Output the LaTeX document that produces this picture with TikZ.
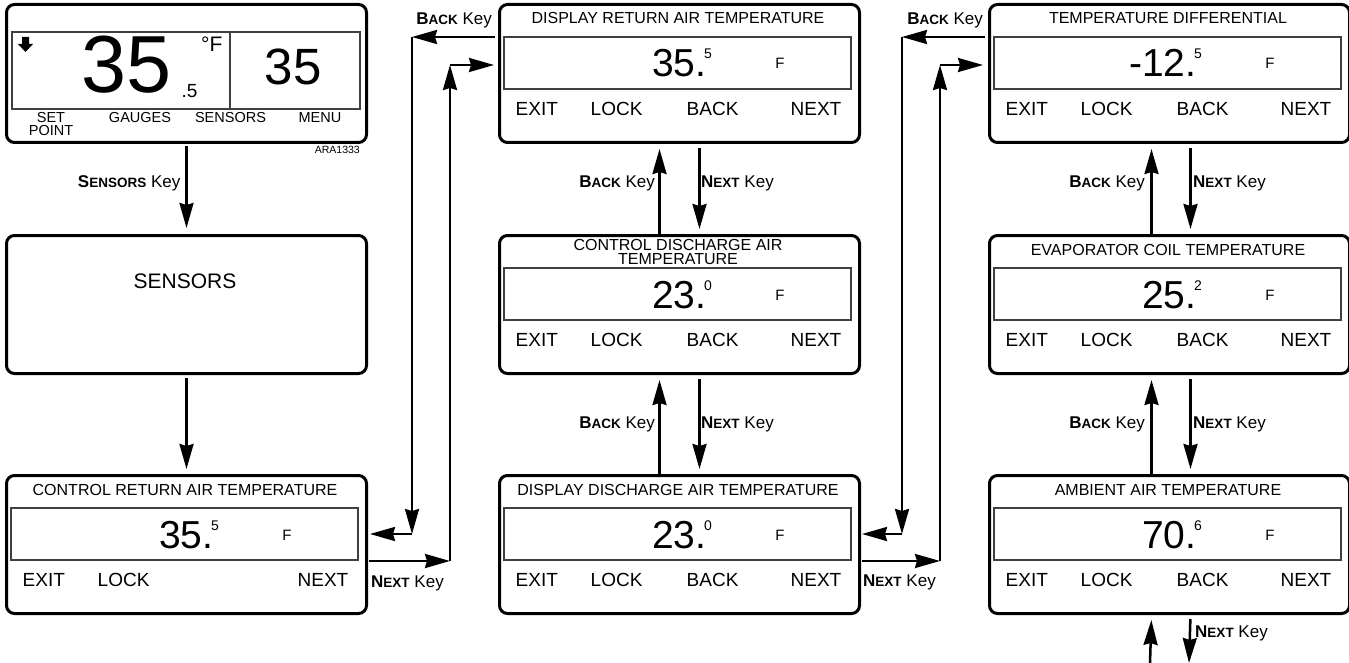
\documentclass[tikz,border=0pt]{standalone}
\usepackage{fontspec}
\setmainfont{Liberation Sans}
\usetikzlibrary{arrows.meta}
\newcommand\fs[1]{\fontsize{#1}{#1}\selectfont}
\newcommand\sck[2]{{\bfseries\fs{17}#1\fs{13.5}#2}\fs{17} Key}
\tikzset{
  dbox/.style={draw, line width=3pt, rounded corners=8pt, minimum width=360pt, minimum height=138pt, anchor=north west, inner sep=0pt},
  lcdframe/.style={draw=black!75, line width=1.1pt},
  ttl/.style={font=\fs{16}, inner sep=0pt},
  bignum/.style={font=\fs{39}, inner sep=0pt},
  supf/.style={font=\fs{14}, inner sep=0pt},
  unitf/.style={font=\fs{15}, inner sep=0pt},
  keyf/.style={font=\fs{19}, inner sep=0pt},
  smallf/.style={font=\fs{14.5}, inner sep=0pt},
  lbl/.style={inner sep=0pt},
  arr/.style={line width=2.5pt, -{Stealth[length=25pt,width=14pt,inset=2pt]}},
}
\newcommand\dispcontent[6]{%
  \draw[lcdframe] (#2+6,#3+34) rectangle (#2+353,#3+86);
  \node[ttl, anchor=base] (#1-t) at (#2+180,#3+21) {#4};
  \node[bignum, anchor=base east] (#1-n) at (#2+208.5,#3+74) {#5};
  \node[supf, anchor=base west] (#1-s) at (#2+206,#3+56) {#6};
  \node[unitf, anchor=base] (#1-f) at (#2+282,#3+66) {F};
  \node[keyf, anchor=base west] (#1-e) at (#2+17.5,#3+112.5) {EXIT};
  \node[keyf, anchor=base west] (#1-l) at (#2+92.5,#3+112.5) {LOCK};
  \node[keyf, anchor=base east] (#1-x) at (#2+343.5,#3+112.5) {NEXT};
}
\newcommand\backlabel[3]{\node[keyf, anchor=base west] (#1-b) at (#2+188.5,#3+112.5) {BACK};}
\begin{document}
\begin{tikzpicture}[x=1pt,y=-1pt]
\useasboundingbox (0,0) rectangle (1349,663);
% ---------- column 1 ----------
\node[dbox] (tl) at (5,3) {};
\draw[lcdframe] (12,32) rectangle (360,109);
\draw[lcdframe] (230,32) -- (230,109);
\fill (22,37) -- (29,37) -- (29,44) -- (33,44) -- (25.5,52) -- (18,44) -- (22,44) -- cycle;
\node[inner sep=0pt, font=\fs{81}, anchor=base west] (tl-n) at (81,93) {35};
\node[inner sep=0pt, font=\fs{19}, anchor=base west] (tl-d) at (181.5,98) {.5};
\node[inner sep=0pt, font=\fs{21}, anchor=base west] (tl-u) at (201,52) {°F};
\node[inner sep=0pt, font=\fs{51}, anchor=base west] (tl-r) at (264.5,85) {35};
\node[smallf, anchor=base] (tl-k1) at (51,123) {SET};
\node[smallf, anchor=base] (tl-k1b) at (51,136) {POINT};
\node[smallf, anchor=base] (tl-k2) at (140,123) {GAUGES};
\node[smallf, anchor=base] (tl-k3) at (230.5,123) {SENSORS};
\node[smallf, anchor=base] (tl-k4) at (320,123) {MENU};
\node[inner sep=0pt, font=\fs{10.5}, anchor=base east] (ara) at (360,154) {ARA1333};

\node[dbox] (sens) at (5,234) {};
\node[inner sep=0pt, font=\fs{21}, anchor=base] (sens-t) at (185,288) {SENSORS};

\node[dbox] (crat) at (5,474) {};
\dispcontent{crat}{5}{474}{CONTROL RETURN AIR TEMPERATURE}{35.}{5}

\draw[arr, shorten <=2pt, shorten >=6pt] (tl.south) -- (sens.north);
\node[lbl, anchor=base east] (lk0) at (180.5,188) {\sck{S}{ENSORS}};
\draw[arr, shorten <=3pt, shorten >=5pt] (sens.south) -- (crat.north);

% ---------- column 2 ----------
\node[dbox] (m1) at (498,3) {};
\dispcontent{m1}{498}{3}{DISPLAY RETURN AIR TEMPERATURE}{35.}{5}
\backlabel{m1}{498}{3}
\node[dbox] (m2) at (498,234) {};
\dispcontent{m2}{498}{234}{}{23.}{0}
\backlabel{m2}{498}{234}
\node[ttl, anchor=base, text height=10pt, text depth=0pt] (m2-t1) at (678,251) {CONTROL DISCHARGE AIR};
\node[ttl, anchor=base, text height=10pt, text depth=0pt] (m2-t2) at (678,264.5) {TEMPERATURE};
\node[dbox] (m3) at (498,474) {};
\dispcontent{m3}{498}{474}{DISPLAY DISCHARGE AIR TEMPERATURE}{23.}{0}
\backlabel{m3}{498}{474}

% ---------- column 3 ----------
\node[dbox] (r1) at (988,3) {};
\dispcontent{r1}{988}{3}{TEMPERATURE DIFFERENTIAL}{-12.}{5}
\backlabel{r1}{988}{3}
\node[dbox] (r2) at (988,234) {};
\dispcontent{r2}{988}{234}{EVAPORATOR COIL TEMPERATURE}{25.}{2}
\backlabel{r2}{988}{234}
\node[dbox] (r3) at (988,474) {};
\dispcontent{r3}{988}{474}{AMBIENT AIR TEMPERATURE}{70.}{6}
\backlabel{r3}{988}{474}

% ---------- vertical connectors ----------
\foreach \up/\dn/\lo/\hi in {m2/m1/-20/20, m3/m2/-20/20, r2/r1/-18/21, r3/r2/-18/21}{
  \draw[arr, shorten >=5pt] ([xshift=\lo pt]\up.north) -- ([xshift=\lo pt]\dn.south);
  \draw[arr, shorten <=4pt, shorten >=5pt] ([xshift=\hi pt]\dn.south) -- ([xshift=\hi pt]\up.north);
}
\node[lbl, anchor=base east] (lb1) at (655,188) {\sck{B}{ACK}};
\node[lbl, anchor=base west] (ln1) at (701,188) {\sck{N}{EXT}};
\node[lbl, anchor=base east] (lb2) at (655,428) {\sck{B}{ACK}};
\node[lbl, anchor=base west] (ln2) at (701,428) {\sck{N}{EXT}};
\node[lbl, anchor=base east] (lb3) at (1145,188) {\sck{B}{ACK}};
\node[lbl, anchor=base west] (ln3) at (1193,188) {\sck{N}{EXT}};
\node[lbl, anchor=base east] (lb4) at (1145,428) {\sck{B}{ACK}};
\node[lbl, anchor=base west] (ln4) at (1193,428) {\sck{N}{EXT}};

% bottom open ends
\coordinate (e1) at (1150,663);
\coordinate (e2) at (1189,663);
\draw[arr, shorten >=5pt] (e1) -- ([xshift=-18pt]r3.south);
\draw[arr, shorten <=4pt] ([xshift=21pt]r3.south) -- (e2);
\node[lbl, anchor=base west] (ln5) at (1195,637) {\sck{N}{EXT}};

% ---------- horizontal connectors col1 <-> col2 ----------
\coordinate (a1) at (495,37);  \coordinate (a2) at (412,37);
\coordinate (a3) at (412,534); \coordinate (a4) at (370,534);
\coordinate (b1) at (369,561); \coordinate (b2) at (450,561);
\coordinate (b3) at (450,65);  \coordinate (b4) at (494,65);
\draw[arr] (a1) -- (a2);
\draw[arr] (a2) -- (a3);
\draw[arr] (a3) -- (a4);
\draw[arr] (b1) -- (b2);
\draw[arr] (b2) -- (b3);
\draw[arr] (b3) -- (b4);
\node[lbl, anchor=base east] (lb6) at (492,25) {\sck{B}{ACK}};
\node[lbl, anchor=base west] (ln6) at (371,587) {\sck{N}{EXT}};

% ---------- horizontal connectors col2 <-> col3 ----------
\coordinate (c1) at (985,37);  \coordinate (c2) at (902,37);
\coordinate (c3) at (902,534); \coordinate (c4) at (862,534);
\coordinate (d1) at (862,561); \coordinate (d2) at (940,561);
\coordinate (d3) at (940,65);  \coordinate (d4) at (983,65);
\draw[arr] (c1) -- (c2);
\draw[arr] (c2) -- (c3);
\draw[arr] (c3) -- (c4);
\draw[arr] (d1) -- (d2);
\draw[arr] (d2) -- (d3);
\draw[arr] (d3) -- (d4);
\node[lbl, anchor=base east] (lb7) at (983,25) {\sck{B}{ACK}};
\node[lbl, anchor=base west] (ln7) at (863,586) {\sck{N}{EXT}};
\end{tikzpicture}
\end{document}
